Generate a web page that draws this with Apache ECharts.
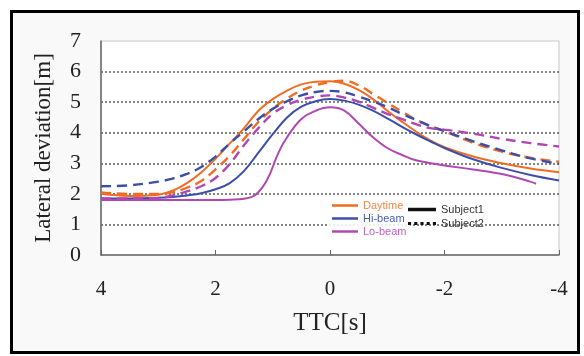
<!DOCTYPE html>
<html>
<head>
<meta charset="utf-8">
<script src="https://cdn.jsdelivr.net/npm/echarts@6/dist/echarts.min.js"></script>
<style>
  html, body { margin: 0; padding: 0; background: #ffffff; }
  #frame { position: absolute; left: 10px; top: 10px; width: 564px; height: 338px; border: 3px solid #000; background: #f9f9f9; }
  #chart { position: absolute; left: 0; top: 0; width: 584px; height: 356px; }
</style>
</head>
<body>
<div id="frame"></div>
<div id="chart"></div>
<script>
// TTC [s] sample positions
const ttc = [4, 3.5, 3, 2.75, 2.5, 2.25, 2, 1.75, 1.5, 1.25, 1, 0.75, 0.5, 0.25, 0, -0.25, -0.5, -0.75, -1, -1.25, -1.5, -1.75, -2, -2.5, -3, -3.5, -4];
// Lateral deviation [m]
const daytimeS1 = [2.0, 1.93, 1.97, 2.1, 2.35, 2.7, 3.15, 3.65, 4.15, 4.72, 5.1, 5.38, 5.58, 5.67, 5.68, 5.6, 5.4, 5.1, 4.72, 4.37, 4.04, 3.75, 3.53, 3.22, 3.0, 2.83, 2.71];
const hiBeamS1  = [1.85, 1.85, 1.87, 1.9, 1.95, 2.02, 2.15, 2.35, 2.75, 3.35, 3.95, 4.5, 4.85, 5.03, 5.1, 5.05, 4.92, 4.72, 4.47, 4.2, 3.95, 3.72, 3.5, 3.13, 2.85, 2.62, 2.44];
const daytimeS2 = [2.05, 2.0, 2.0, 2.05, 2.2, 2.42, 2.8, 3.25, 3.8, 4.35, 4.78, 5.12, 5.38, 5.55, 5.66, 5.7, 5.55, 5.27, 4.98, 4.7, 4.43, 4.22, 4.05, 3.67, 3.38, 3.18, 3.05];
const hiBeamS2  = [2.25, 2.28, 2.4, 2.5, 2.65, 2.88, 3.22, 3.65, 4.05, 4.45, 4.78, 5.03, 5.22, 5.33, 5.37, 5.32, 5.18, 5.02, 4.84, 4.62, 4.42, 4.22, 4.05, 3.72, 3.42, 3.16, 2.98];
const loBeamS2  = [1.85, 1.85, 1.87, 1.95, 2.08, 2.25, 2.52, 2.98, 3.6, 4.15, 4.62, 4.9, 5.08, 5.18, 5.22, 5.15, 5.02, 4.82, 4.62, 4.45, 4.28, 4.15, 4.1, 3.97, 3.8, 3.66, 3.55];
const ttcLo1    = [4, 3.5, 3, 2.5, 2, 1.75, 1.5, 1.3, 1.1, 0.9, 0.75, 0.5, 0.25, 0, -0.25, -0.5, -0.75, -1, -1.25, -1.5, -2, -2.5, -3, -3.5, -3.6];
const loBeamS1  = [1.8, 1.8, 1.8, 1.8, 1.8, 1.81, 1.84, 1.97, 2.45, 3.35, 3.85, 4.45, 4.72, 4.83, 4.72, 4.3, 3.85, 3.5, 3.28, 3.1, 2.93, 2.8, 2.65, 2.4, 2.33];

const xTicks = [4, 2, 0, -2, -4];
const yTicks = [0, 1, 2, 3, 4, 5, 6, 7];

const COL = { day: '#f26b22', hi: '#3c4fa8', lo: '#b048b4' };
const pair = (xs, ys) => xs.map((x, i) => [x, ys[i]]);
const serif = "'Liberation Serif', 'Times New Roman', serif";
const sans = "'Liberation Sans', Arial, sans-serif";

function mk(name, xs, ys, color, dashed) {
  return {
    name, type: 'line', data: pair(xs, ys), smooth: 0.4, symbol: 'none',
    lineStyle: { color, width: dashed ? 2.4 : 2, type: dashed ? [10, 6] : 'solid' },
    itemStyle: { color }
  };
}

const dotsIcon = 'path://M0,0h3v3h-3zM6,0h3v3h-3zM12,0h3v3h-3zM18,0h3v3h-3zM24,0h3v3h-3z';

const chart = echarts.init(document.getElementById('chart'), null, { renderer: 'canvas' });
chart.setOption({
  animation: false,
  backgroundColor: 'transparent',
  grid: { left: 101, right: 25, top: 41, bottom: 101, show: true, backgroundColor: '#ffffff', borderColor: '#c8c8c8', borderWidth: 1 },
  xAxis: {
    type: 'value', min: -4, max: 4, interval: 2, inverse: true,
    name: 'TTC[s]', nameLocation: 'middle', nameGap: 56,
    nameTextStyle: { fontFamily: serif, fontSize: 25, color: '#222' },
    axisLine: { onZero: false, lineStyle: { color: '#666', width: 1.5 } },
    axisTick: { show: true, inside: true, length: 5, lineStyle: { color: '#666' } },
    axisLabel: { fontFamily: serif, fontSize: 21, color: '#222', margin: 24,
      formatter: v => xTicks.includes(v) ? String(v) : '' },
    splitLine: { show: false }
  },
  yAxis: {
    type: 'value', min: 0, max: 7, interval: 1, position: 'left',
    name: 'Lateral deviation[m]', nameLocation: 'middle', nameGap: 46,
    nameTextStyle: { fontFamily: serif, fontSize: 23, color: '#222' },
    axisLine: { show: true, onZero: false, lineStyle: { color: '#666', width: 1.5 } },
    axisTick: { show: false },
    axisLabel: { fontFamily: serif, fontSize: 22, color: '#222', margin: 20,
      formatter: v => yTicks.includes(v) ? String(v) : '' },
    splitLine: { show: true, lineStyle: { type: [2, 2], width: 1.6,
      color: ['transparent', '#666', '#666', '#666', '#666', '#666', '#666', 'transparent'] } }
  },
  legend: [
    {
      data: [
        { name: 'Daytime', icon: 'rect', textStyle: { color: '#f3884a' } },
        { name: 'Hi-beam', icon: 'rect', textStyle: { color: '#4a5db5' } },
        { name: 'Lo-beam', icon: 'rect', textStyle: { color: '#c060c4' } }
      ],
      orient: 'vertical', left: 328, top: 197, itemWidth: 26, itemHeight: 2.5, itemGap: 0, padding: [2, 4],
      backgroundColor: 'rgba(255,255,255,0.85)',
      textStyle: { fontFamily: sans, fontSize: 11, lineHeight: 13 }
    },
    {
      data: [
        { name: 'Subject1', icon: 'rect' },
        { name: 'Subject2', icon: dotsIcon }
      ],
      orient: 'vertical', left: 408, top: 203, itemWidth: 28, itemHeight: 3.5, itemGap: 1, padding: 0,
      textStyle: { fontFamily: sans, fontSize: 11, lineHeight: 13, color: '#333' }
    }
  ],
  series: [
    mk('Daytime', ttc, daytimeS1, COL.day, false),
    mk('Hi-beam', ttc, hiBeamS1, COL.hi, false),
    mk('Lo-beam', ttcLo1, loBeamS1, COL.lo, false),
    mk('Daytime', ttc, daytimeS2, COL.day, true),
    mk('Hi-beam', ttc, hiBeamS2, COL.hi, true),
    mk('Lo-beam', ttc, loBeamS2, COL.lo, true),
    { name: 'Subject1', type: 'line', data: [], symbol: 'none', lineStyle: { color: '#111', width: 3.5 }, itemStyle: { color: '#111' } },
    { name: 'Subject2', type: 'line', data: [], symbol: 'none', lineStyle: { color: '#111', width: 3.5, type: [3, 3] }, itemStyle: { color: '#111' } }
  ]
});
</script>
</body>
</html>
